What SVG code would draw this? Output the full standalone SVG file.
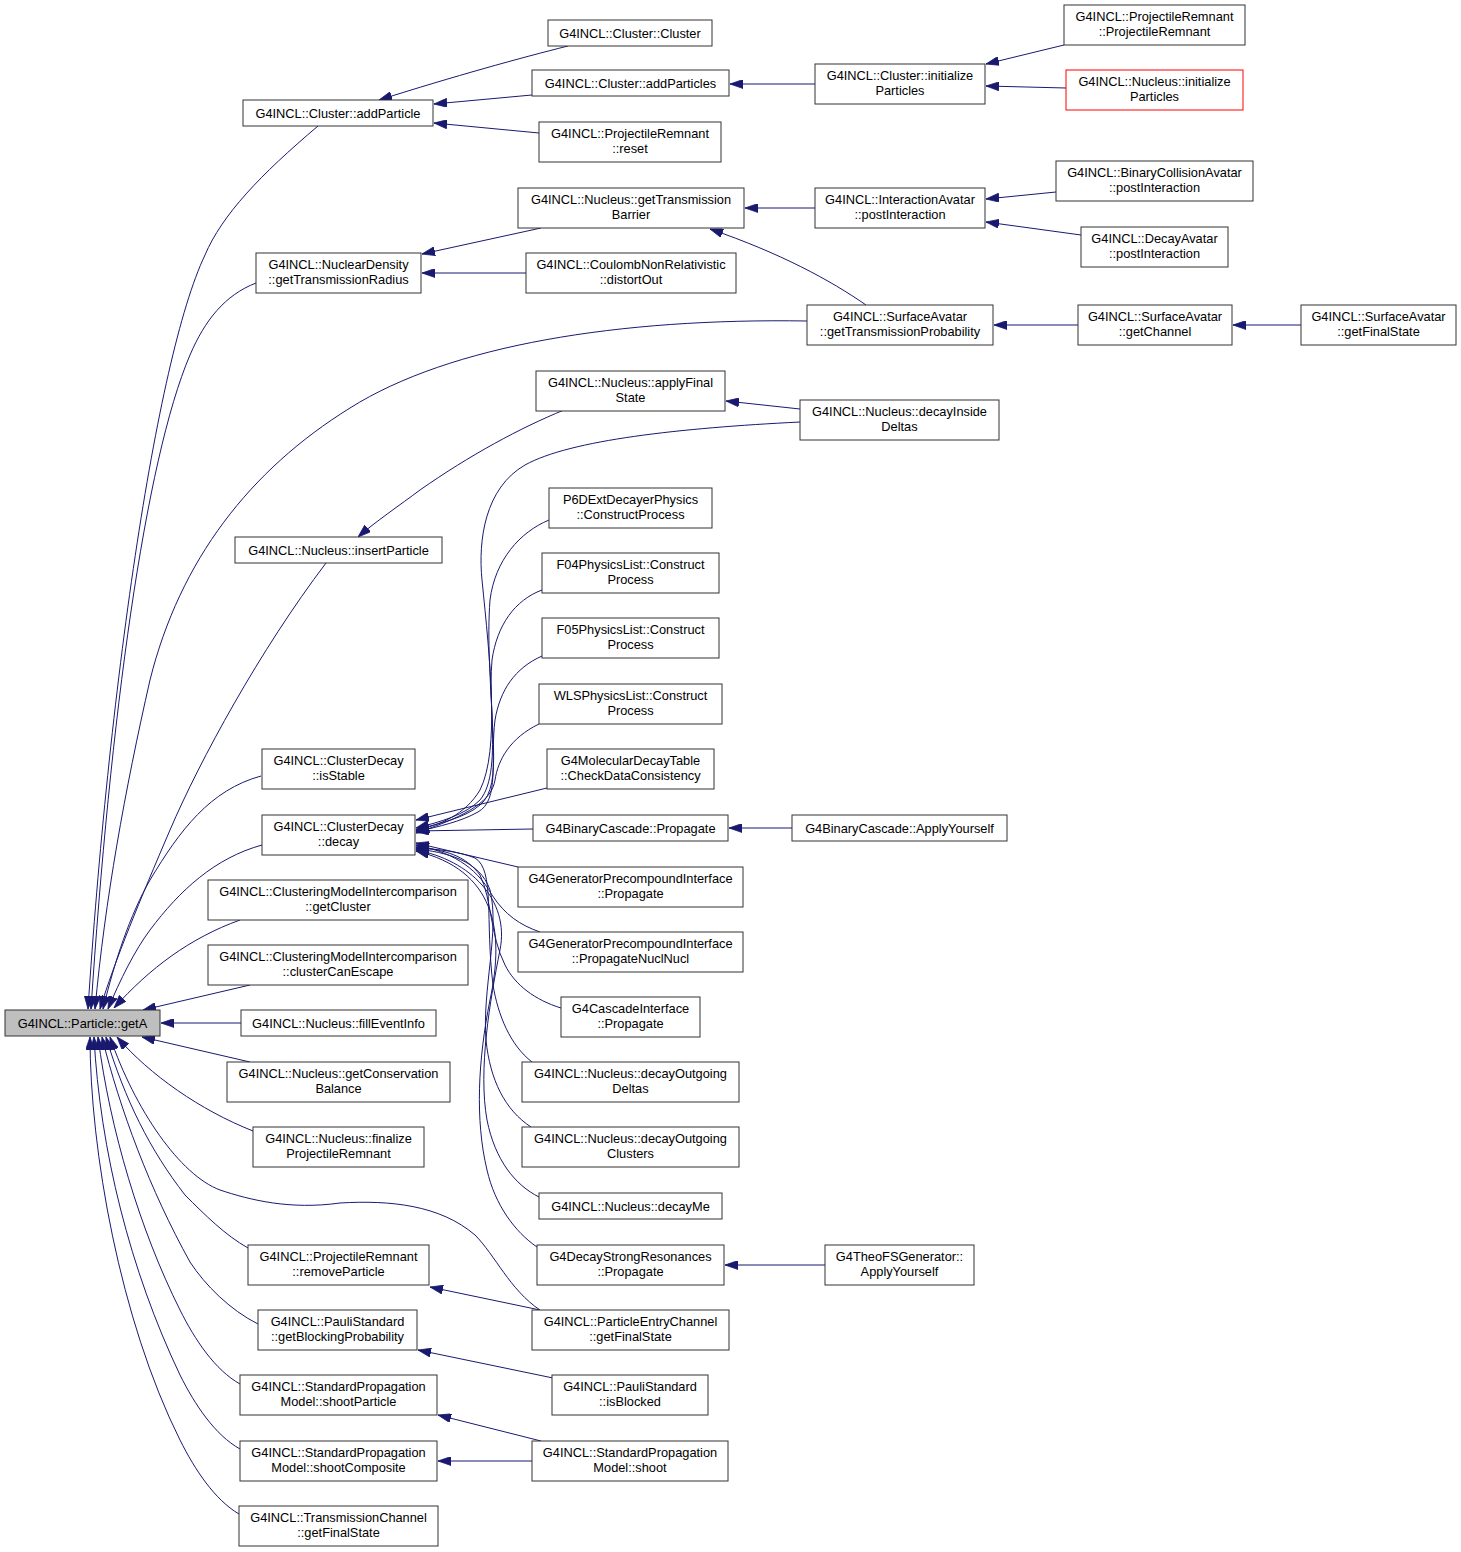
<svg xmlns="http://www.w3.org/2000/svg" width="1461" height="1552" viewBox="0 0 1461 1552">
<style>
rect{fill:#ffffff;stroke:#333333;stroke-width:1}
rect.root{fill:#bfbfbf}
rect.red{stroke:#ff0000}
text{font-family:"Liberation Sans",Arial,Helvetica,sans-serif;font-size:12.8px;fill:#000000;text-anchor:middle}
#edges path{fill:none;stroke:#191970;stroke-width:1;marker-end:url(#arr)}
</style>
<defs>
<marker id="arr" markerUnits="userSpaceOnUse" markerWidth="13" markerHeight="9" refX="10" refY="3.5" orient="auto" viewBox="0 0 10 7" preserveAspectRatio="none">
<path d="M0,0 L10,3.5 L0,7 z" fill="#191970" stroke="#191970" stroke-width="0.6"/>
</marker>
</defs>
<rect x="0" y="0" width="1461" height="1552" style="fill:#ffffff;stroke:none"/>
<g id="edges">
<path d="M318,126 C260,175 222,215 205,255 C155,360 108,700 88,1009"/>
<path d="M256,283 C225,295 205,320 190,355 C145,460 110,720 91,1009"/>
<path d="M807,321 C620,318 450,345 350,408 C250,470 180,560 150,680 C125,790 105,900 95,1009"/>
<path d="M326,563 C260,650 200,760 170,830 C140,900 115,960 100,1009"/>
<path d="M261,776 C210,790 180,830 150,880 C130,915 115,960 103,1009"/>
<path d="M262,845 C215,858 180,890 150,930 C135,950 120,980 108,1009"/>
<path d="M240,920 C190,938 150,968 114,1008"/>
<path d="M250,985 L143,1010"/>
<path d="M241,1023 L161,1023"/>
<path d="M250,1062 L142,1037"/>
<path d="M253,1131 C200,1110 150,1075 117,1037"/>
<path d="M540,1310 C510,1290 495,1255 475,1235 C440,1205 390,1200 340,1203 C290,1210 250,1200 220,1190 C180,1175 135,1110 110,1037"/>
<path d="M248,1248 C225,1235 205,1215 185,1195 C150,1150 125,1100 106,1037"/>
<path d="M258,1324 C230,1310 205,1285 190,1262 C150,1190 120,1110 102,1037"/>
<path d="M240,1384 C215,1370 195,1340 180,1310 C140,1230 110,1130 98,1037"/>
<path d="M240,1449 C215,1435 195,1405 180,1375 C130,1270 100,1150 94,1037"/>
<path d="M239,1514 C215,1500 195,1470 180,1440 C120,1320 90,1150 90,1037"/>
<path d="M568,46 C520,58 455,76 379,100"/>
<path d="M532,95 L434,104"/>
<path d="M539,133 L434,123"/>
<path d="M815,84 L730,84"/>
<path d="M1064,45 L986,64"/>
<path d="M1066,88 L986,86"/>
<path d="M541,228 L422,254"/>
<path d="M526,273 L422,273"/>
<path d="M815,208 L745,208"/>
<path d="M1056,192 L986,199"/>
<path d="M1081,235 L986,222"/>
<path d="M866,305 C830,280 780,253 710,229"/>
<path d="M1078,325 L994,325"/>
<path d="M1301,325 L1233,325"/>
<path d="M800,409 L726,401"/>
<path d="M564,410 C520,428 470,455 420,490 C400,505 375,522 358,537"/>
<path d="M800,422 C680,428 570,440 525,465 C485,488 478,540 482,580 C490,660 500,750 480,790 C465,815 440,825 416,830"/>
<path d="M549,520 C520,532 495,560 490,600 C484,680 505,770 480,800 C465,815 440,822 416,828"/>
<path d="M542,590 C515,600 497,625 492,660 C487,720 505,785 480,805 C465,818 440,823 416,830"/>
<path d="M542,656 C515,668 500,690 495,720 C490,760 500,800 478,812 C460,822 440,826 416,832"/>
<path d="M539,724 C510,738 498,760 495,780 C492,800 470,815 416,833"/>
<path d="M547,788 L416,820"/>
<path d="M533,829 L416,831"/>
<path d="M518,867 L416,843"/>
<path d="M540,932 C520,925 505,915 492,895 C475,865 450,852 416,845"/>
<path d="M561,1008 C535,1000 515,985 505,965 C490,935 492,900 480,875 C465,855 445,850 416,847"/>
<path d="M532,1062 C510,1045 498,1015 493,985 C485,920 495,870 475,858 C460,852 440,849 416,848"/>
<path d="M531,1127 C505,1110 490,1080 486,1040 C482,990 500,930 490,890 C480,860 445,852 416,849"/>
<path d="M539,1197 C515,1185 495,1160 487,1120 C478,1070 490,1000 500,950 C510,900 470,860 416,850"/>
<path d="M537,1247 C515,1232 495,1205 487,1170 C475,1120 478,1060 490,1000 C505,930 495,870 416,851"/>
<path d="M792,828 L729,828"/>
<path d="M825,1265 L725,1265"/>
<path d="M540,1310 L430,1287"/>
<path d="M553,1378 L418,1350"/>
<path d="M541,1441 L438,1415"/>
<path d="M532,1461 L438,1461"/>
</g>
<g id="n_getA"><rect class="root" x="5" y="1010" width="155" height="26"/><text x="82.5" y="1027.5">G4INCL::Particle::getA</text></g>
<g id="n_addParticle"><rect x="243" y="100" width="190" height="26"/><text x="338" y="117.5">G4INCL::Cluster::addParticle</text></g>
<g id="n_Cluster"><rect x="548" y="20" width="164" height="26"/><text x="630" y="37.5">G4INCL::Cluster::Cluster</text></g>
<g id="n_addParticles"><rect x="532" y="70" width="197" height="26"/><text x="630.5" y="87.5">G4INCL::Cluster::addParticles</text></g>
<g id="n_reset"><rect x="539" y="122" width="182" height="40"/><text x="630" y="138">G4INCL::ProjectileRemnant</text><text x="630" y="152.5">::reset</text></g>
<g id="n_clusterInit"><rect x="815" y="64" width="170" height="40"/><text x="900" y="80">G4INCL::Cluster::initialize</text><text x="900" y="94.5">Particles</text></g>
<g id="n_PR"><rect x="1064" y="5" width="181" height="40"/><text x="1154.5" y="21">G4INCL::ProjectileRemnant</text><text x="1154.5" y="35.5">::ProjectileRemnant</text></g>
<g id="n_nucleusInit"><rect class="red" x="1066" y="70" width="177" height="40"/><text x="1154.5" y="86">G4INCL::Nucleus::initialize</text><text x="1154.5" y="100.5">Particles</text></g>
<g id="n_getTransBarrier"><rect x="518" y="188" width="226" height="40"/><text x="631" y="204">G4INCL::Nucleus::getTransmission</text><text x="631" y="218.5">Barrier</text></g>
<g id="n_getTransRadius"><rect x="256" y="253" width="165" height="40"/><text x="338.5" y="269">G4INCL::NuclearDensity</text><text x="338.5" y="283.5">::getTransmissionRadius</text></g>
<g id="n_distortOut"><rect x="526" y="253" width="210" height="40"/><text x="631" y="269">G4INCL::CoulombNonRelativistic</text><text x="631" y="283.5">::distortOut</text></g>
<g id="n_interAvatar"><rect x="815" y="188" width="170" height="40"/><text x="900" y="204">G4INCL::InteractionAvatar</text><text x="900" y="218.5">::postInteraction</text></g>
<g id="n_binColl"><rect x="1056" y="161" width="197" height="40"/><text x="1154.5" y="177">G4INCL::BinaryCollisionAvatar</text><text x="1154.5" y="191.5">::postInteraction</text></g>
<g id="n_decayAvatar"><rect x="1081" y="227" width="147" height="40"/><text x="1154.5" y="243">G4INCL::DecayAvatar</text><text x="1154.5" y="257.5">::postInteraction</text></g>
<g id="n_getTransProb"><rect x="807" y="305" width="186" height="40"/><text x="900" y="321">G4INCL::SurfaceAvatar</text><text x="900" y="335.5">::getTransmissionProbability</text></g>
<g id="n_getChannel"><rect x="1078" y="305" width="154" height="40"/><text x="1155" y="321">G4INCL::SurfaceAvatar</text><text x="1155" y="335.5">::getChannel</text></g>
<g id="n_saFinal"><rect x="1301" y="305" width="155" height="40"/><text x="1378.5" y="321">G4INCL::SurfaceAvatar</text><text x="1378.5" y="335.5">::getFinalState</text></g>
<g id="n_applyFinal"><rect x="536" y="371" width="189" height="40"/><text x="630.5" y="387">G4INCL::Nucleus::applyFinal</text><text x="630.5" y="401.5">State</text></g>
<g id="n_decayInside"><rect x="800" y="400" width="199" height="40"/><text x="899.5" y="416">G4INCL::Nucleus::decayInside</text><text x="899.5" y="430.5">Deltas</text></g>
<g id="n_insertParticle"><rect x="235" y="537" width="207" height="26"/><text x="338.5" y="554.5">G4INCL::Nucleus::insertParticle</text></g>
<g id="n_P6D"><rect x="549" y="488" width="163" height="40"/><text x="630.5" y="504">P6DExtDecayerPhysics</text><text x="630.5" y="518.5">::ConstructProcess</text></g>
<g id="n_F04"><rect x="542" y="553" width="177" height="40"/><text x="630.5" y="569">F04PhysicsList::Construct</text><text x="630.5" y="583.5">Process</text></g>
<g id="n_F05"><rect x="542" y="618" width="177" height="40"/><text x="630.5" y="634">F05PhysicsList::Construct</text><text x="630.5" y="648.5">Process</text></g>
<g id="n_WLS"><rect x="539" y="684" width="183" height="40"/><text x="630.5" y="700">WLSPhysicsList::Construct</text><text x="630.5" y="714.5">Process</text></g>
<g id="n_molDecay"><rect x="547" y="749" width="167" height="40"/><text x="630.5" y="765">G4MolecularDecayTable</text><text x="630.5" y="779.5">::CheckDataConsistency</text></g>
<g id="n_bcPropagate"><rect x="533" y="815" width="195" height="26"/><text x="630.5" y="832.5">G4BinaryCascade::Propagate</text></g>
<g id="n_bcApply"><rect x="792" y="815" width="215" height="26"/><text x="899.5" y="832.5">G4BinaryCascade::ApplyYourself</text></g>
<g id="n_isStable"><rect x="262" y="749" width="153" height="40"/><text x="338.5" y="765">G4INCL::ClusterDecay</text><text x="338.5" y="779.5">::isStable</text></g>
<g id="n_decay"><rect x="262" y="815" width="153" height="40"/><text x="338.5" y="831">G4INCL::ClusterDecay</text><text x="338.5" y="845.5">::decay</text></g>
<g id="n_getCluster"><rect x="208" y="880" width="260" height="40"/><text x="338" y="896">G4INCL::ClusteringModelIntercomparison</text><text x="338" y="910.5">::getCluster</text></g>
<g id="n_clusterCanEscape"><rect x="208" y="945" width="260" height="40"/><text x="338" y="961">G4INCL::ClusteringModelIntercomparison</text><text x="338" y="975.5">::clusterCanEscape</text></g>
<g id="n_gpiPropagate"><rect x="518" y="867" width="225" height="40"/><text x="630.5" y="883">G4GeneratorPrecompoundInterface</text><text x="630.5" y="897.5">::Propagate</text></g>
<g id="n_gpiNuclNucl"><rect x="518" y="932" width="225" height="40"/><text x="630.5" y="948">G4GeneratorPrecompoundInterface</text><text x="630.5" y="962.5">::PropagateNuclNucl</text></g>
<g id="n_cascade"><rect x="561" y="997" width="139" height="40"/><text x="630.5" y="1013">G4CascadeInterface</text><text x="630.5" y="1027.5">::Propagate</text></g>
<g id="n_fillEventInfo"><rect x="241" y="1010" width="195" height="26"/><text x="338.5" y="1027.5">G4INCL::Nucleus::fillEventInfo</text></g>
<g id="n_consBalance"><rect x="227" y="1062" width="223" height="40"/><text x="338.5" y="1078">G4INCL::Nucleus::getConservation</text><text x="338.5" y="1092.5">Balance</text></g>
<g id="n_outDeltas"><rect x="522" y="1062" width="217" height="40"/><text x="630.5" y="1078">G4INCL::Nucleus::decayOutgoing</text><text x="630.5" y="1092.5">Deltas</text></g>
<g id="n_finalizePR"><rect x="253" y="1127" width="171" height="40"/><text x="338.5" y="1143">G4INCL::Nucleus::finalize</text><text x="338.5" y="1157.5">ProjectileRemnant</text></g>
<g id="n_outClusters"><rect x="522" y="1127" width="217" height="40"/><text x="630.5" y="1143">G4INCL::Nucleus::decayOutgoing</text><text x="630.5" y="1157.5">Clusters</text></g>
<g id="n_decayMe"><rect x="539" y="1193" width="183" height="26"/><text x="630.5" y="1210.5">G4INCL::Nucleus::decayMe</text></g>
<g id="n_dsr"><rect x="537" y="1245" width="187" height="40"/><text x="630.5" y="1261">G4DecayStrongResonances</text><text x="630.5" y="1275.5">::Propagate</text></g>
<g id="n_theoFS"><rect x="825" y="1245" width="149" height="40"/><text x="899.5" y="1261">G4TheoFSGenerator::</text><text x="899.5" y="1275.5">ApplyYourself</text></g>
<g id="n_removeParticle"><rect x="248" y="1245" width="181" height="40"/><text x="338.5" y="1261">G4INCL::ProjectileRemnant</text><text x="338.5" y="1275.5">::removeParticle</text></g>
<g id="n_pec"><rect x="532" y="1310" width="197" height="40"/><text x="630.5" y="1326">G4INCL::ParticleEntryChannel</text><text x="630.5" y="1340.5">::getFinalState</text></g>
<g id="n_blockProb"><rect x="258" y="1310" width="159" height="40"/><text x="337.5" y="1326">G4INCL::PauliStandard</text><text x="337.5" y="1340.5">::getBlockingProbability</text></g>
<g id="n_isBlocked"><rect x="552" y="1375" width="156" height="40"/><text x="630" y="1391">G4INCL::PauliStandard</text><text x="630" y="1405.5">::isBlocked</text></g>
<g id="n_shootParticle"><rect x="240" y="1375" width="197" height="40"/><text x="338.5" y="1391">G4INCL::StandardPropagation</text><text x="338.5" y="1405.5">Model::shootParticle</text></g>
<g id="n_shootComposite"><rect x="240" y="1441" width="197" height="40"/><text x="338.5" y="1457">G4INCL::StandardPropagation</text><text x="338.5" y="1471.5">Model::shootComposite</text></g>
<g id="n_shoot"><rect x="532" y="1441" width="196" height="40"/><text x="630" y="1457">G4INCL::StandardPropagation</text><text x="630" y="1471.5">Model::shoot</text></g>
<g id="n_transChannel"><rect x="239" y="1506" width="199" height="40"/><text x="338.5" y="1522">G4INCL::TransmissionChannel</text><text x="338.5" y="1536.5">::getFinalState</text></g>
</svg>
